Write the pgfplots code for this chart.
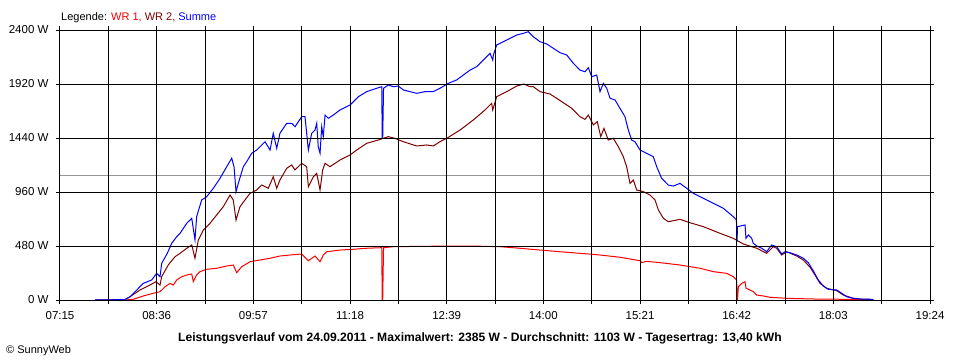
\documentclass[border=0pt]{standalone}
\usepackage{pgfplots}
\pgfplotsset{compat=1.18}
\usepackage{fontspec}
\setmainfont{Liberation Sans}
\definecolor{wrone}{RGB}{255,0,0}
\definecolor{wrtwo}{RGB}{128,0,0}
\definecolor{summe}{RGB}{0,0,255}
\definecolor{avgline}{RGB}{150,150,150}
\begin{document}
\begin{tikzpicture}[x=1pt,y=1pt]
\useasboundingbox (0,0) rectangle (960,360);
\fill[white] (0,0) rectangle (960,360);
\begin{axis}[
  at={(60pt,60pt)}, anchor=south west,
  scale only axis, width=870pt, height=270pt,
  xmin=435, xmax=1164, ymin=0, ymax=2400,
  axis on top,
  axis line style={black, line width=1pt},
  xtick={435,516,597,678,759,840,921,1002,1083,1164},
  xticklabels={07:15,08:36,09:57,11:18,12:39,14:00,15:21,16:42,18:03,19:24},
  minor xtick={475.5,556.5,637.5,718.5,799.5,880.5,961.5,1042.5,1123.5},
  ytick={0,480,960,1440,1920,2400},
  yticklabels={0 W,480 W,960 W,1440 W,1920 W,2400 W},
  grid=both,
  major grid style={black, line width=1pt},
  minor grid style={black, line width=1pt},
  tick align=outside,
  major tick length=4pt, minor tick length=4pt,
  every tick/.style={black, line width=1pt},
  tick label style={font=\fontsize{11.5}{13}\selectfont},
  xticklabel style={yshift=-4pt},
  yticklabel style={xshift=-4pt},
  /pgf/number format/assume math mode=true,
]
\addplot[avgline, line width=1pt] coordinates {(435,1103) (1164,1103)};
\addplot[wrone, line width=1pt] table {
489.5 0
496.4 6
504.8 36
513.2 60
518.8 74
523.0 118
527.2 148
529.9 133
532.8 178
537.0 207
541.2 222
545.4 231
546.7 163
549.5 222
552.3 252
557.9 273
566.3 282
574.7 302
580.2 311
583.1 243
587.2 296
594.2 340
602.6 356
611.0 371
619.3 391
627.7 400
637.5 409
643.1 349
648.7 391
652.9 340
655.6 400
658.5 429
669.6 444
680.8 451
692.0 460
704.6 465
705.0 0
705.4 0
706.1 465
714.3 474
747.8 478
786.9 478
803.7 474
820.4 460
837.2 444
854.0 429
870.7 415
887.5 400
904.2 380
921.0 349
922.4 332
926.6 344
937.8 332
954.5 311
971.3 282
982.4 252
993.6 237
999.2 207
1002.0 178
1002.3 0
1002.7 0
1003.4 118
1006.3 148
1009.0 163
1009.8 104
1013.2 89
1015.9 74
1018.8 44
1024.3 36
1029.9 24
1043.9 15
1066.2 9
1094.2 6
1116.5 0
};
\addplot[wrtwo, line width=1pt] table {
464.3 0
489.5 4
493.7 29
502.0 89
510.4 133
515.4 163
518.8 133
520.2 207
525.7 311
531.4 385
535.6 415
541.2 460
545.4 489
548.1 371
550.9 533
555.1 622
560.7 682
566.3 756
571.8 829
577.5 933
580.2 889
582.5 711
585.8 829
590.0 889
594.2 948
599.8 978
604.0 1022
609.5 993
613.7 1096
616.6 993
619.3 1067
625.0 1171
629.1 1200
631.9 1156
637.5 1215
641.7 1185
643.1 1007
647.3 1096
650.1 1126
652.9 978
655.1 1156
657.1 1215
661.2 1185
669.6 1244
678.0 1289
683.6 1333
692.0 1393
701.7 1422
710.1 1452
715.7 1437
722.7 1407
733.9 1369
742.3 1378
747.8 1369
753.4 1407
760.4 1446
770.2 1511
781.3 1600
791.1 1689
796.7 1748
797.6 1689
800.9 1807
809.3 1852
817.7 1902
823.8 1920
828.8 1896
831.6 1896
837.2 1852
845.6 1831
851.2 1793
856.7 1754
863.8 1704
870.7 1629
874.9 1606
877.7 1644
881.9 1556
885.2 1585
888.1 1452
890.8 1526
894.4 1422
898.6 1437
902.8 1363
907.0 1274
909.8 1185
912.6 1037
915.4 1067
918.2 978
923.8 963
929.4 933
933.6 889
936.4 800
940.6 726
944.7 696
948.9 705
954.5 717
962.9 687
974.0 652
988.0 593
999.2 548
1007.6 498
1018.8 460
1027.1 415
1032.7 474
1035.5 460
1039.7 400
1043.9 429
1052.3 391
1057.8 356
1063.5 291
1067.6 222
1071.8 148
1077.4 104
1085.8 83
1091.3 44
1099.7 15
1108.1 6
1116.5 4
};
\addplot[summe, line width=1pt] table {
464.3 0
489.5 4
493.7 29
504.8 148
511.8 178
516.0 237
518.8 207
520.2 326
524.9 415
528.6 504
532.8 563
535.6 593
541.2 682
545.4 726
548.1 533
549.5 741
553.7 889
557.9 918
563.5 993
569.1 1082
574.7 1185
578.9 1260
580.8 1185
582.5 963
584.4 1037
588.6 1185
591.4 1229
595.6 1304
599.8 1333
606.8 1407
611.0 1333
613.7 1482
616.6 1348
619.3 1482
625.0 1571
629.1 1571
631.9 1540
637.5 1629
640.3 1629
641.7 1482
643.1 1333
645.9 1482
648.7 1511
650.1 1571
651.4 1363
652.9 1304
654.3 1540
655.6 1452
657.1 1644
659.8 1615
664.0 1644
669.6 1689
678.0 1733
685.0 1807
692.0 1852
700.4 1882
704.6 1896
705.0 1437
705.4 1437
706.1 1882
710.1 1911
714.3 1896
718.5 1902
722.7 1867
728.3 1852
733.9 1837
740.8 1852
747.8 1852
753.4 1882
760.4 1926
767.4 1956
773.0 2000
778.6 2044
784.2 2074
789.7 2133
795.3 2193
797.6 2133
798.2 2178
800.9 2267
806.5 2296
812.1 2326
817.7 2356
823.2 2370
827.4 2385
831.6 2340
837.2 2296
842.8 2276
848.4 2237
854.0 2198
859.6 2178
865.1 2104
870.7 2044
874.9 2029
877.7 2065
880.5 1985
884.7 2000
887.5 1852
890.3 1926
893.1 1882
895.9 1793
900.1 1778
904.2 1704
908.4 1629
911.2 1511
914.0 1422
916.8 1407
921.0 1333
926.6 1304
932.1 1274
935.0 1185
939.1 1082
944.7 1022
948.9 1013
954.5 1037
960.1 993
965.7 948
974.0 904
982.4 860
990.8 815
999.2 741
1001.8 711
1002.3 518
1002.7 652
1009.0 667
1009.8 548
1011.8 578
1014.6 548
1015.9 504
1018.8 480
1023.0 460
1027.1 429
1031.3 489
1035.5 474
1039.7 409
1042.5 429
1046.7 420
1052.3 400
1057.8 371
1062.0 332
1066.2 260
1070.4 178
1074.6 124
1078.8 95
1085.8 89
1090.0 60
1094.2 29
1099.7 15
1105.4 9
1116.5 6
};
\end{axis}
\node[anchor=base west, inner sep=0pt, font=\fontsize{11}{13}\selectfont] at (61,340)
  {Legende: \textcolor{wrone}{WR 1,} \textcolor{wrtwo}{WR 2,} \textcolor{summe}{Summe}};
\node[anchor=base, inner sep=0pt, font=\fontsize{12.1}{14}\selectfont\bfseries] at (480,18.5)
  {Leistungsverlauf vom 24.09.2011 - Maximalwert: 2385 W - Durchschnitt: 1103 W - Tagesertrag: 13,40 kWh};
\node[anchor=base west, inner sep=0pt, font=\fontsize{11}{13}\selectfont] at (6,7)
  {\textcopyright{} SunnyWeb};
\end{tikzpicture}
\end{document}
